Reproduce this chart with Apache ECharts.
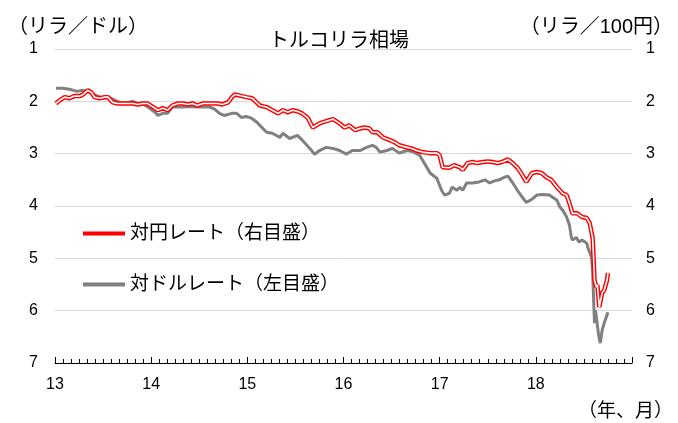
<!DOCTYPE html>
<html>
<head>
<meta charset="utf-8">
<script src="https://cdn.jsdelivr.net/npm/echarts@6/dist/echarts.min.js"></script>
<style>
html, body { margin: 0; padding: 0; background: #fff; }
#chart { width: 678px; height: 423px; }
</style>
</head>
<body>
<div id="chart"></div>
<script>
// 対ドル（左目盛）: 年（13 = 2013年1月）, リラ／ドル
var usdYears = [13.01, 13.08, 13.15, 13.23, 13.29, 13.34, 13.39, 13.44, 13.50, 13.55, 13.60, 13.65, 13.70, 13.76, 13.81, 13.86, 13.91, 13.98,
    14.04, 14.07, 14.12, 14.17, 14.22, 14.28, 14.33, 14.40, 14.47, 14.54, 14.61, 14.66, 14.71, 14.76, 14.84, 14.89, 14.94, 14.99,
    15.04, 15.10, 15.13, 15.20, 15.26, 15.34, 15.37, 15.44, 15.52, 15.57, 15.65, 15.70, 15.75, 15.82, 15.89, 15.96,
    16.03, 16.09, 16.17, 16.24, 16.30, 16.34, 16.38, 16.45, 16.51, 16.58, 16.66, 16.72, 16.79, 16.84, 16.90, 16.97,
    17.02, 17.05, 17.10, 17.13, 17.18, 17.21, 17.24, 17.28, 17.34, 17.41, 17.47, 17.52, 17.57, 17.62, 17.67, 17.71, 17.76, 17.83, 17.90, 17.96,
    18.01, 18.07, 18.14, 18.22, 18.25, 18.28, 18.32, 18.35, 18.37, 18.38, 18.42, 18.45, 18.48, 18.53, 18.54, 18.58, 18.59, 18.60,
    18.61, 18.62, 18.63, 18.65, 18.67, 18.69, 18.71, 18.75];
var usdRates = [1.75, 1.75, 1.77, 1.81, 1.79, 1.81, 1.85, 1.90, 1.94, 1.92, 1.96, 2.00, 2.04, 2.02, 2.00, 2.04, 2.04, 2.13,
    2.21, 2.27, 2.23, 2.23, 2.11, 2.11, 2.11, 2.10, 2.11, 2.11, 2.11, 2.15, 2.23, 2.27, 2.23, 2.23, 2.31, 2.29,
    2.32, 2.40, 2.46, 2.59, 2.61, 2.69, 2.61, 2.71, 2.65, 2.74, 2.90, 3.01, 2.94, 2.88, 2.90, 2.94,
    3.01, 2.94, 2.94, 2.88, 2.84, 2.88, 2.97, 2.94, 2.90, 2.99, 2.94, 2.96, 3.03, 3.18, 3.37, 3.47,
    3.70, 3.79, 3.76, 3.64, 3.70, 3.64, 3.70, 3.56, 3.56, 3.54, 3.50, 3.56, 3.52, 3.50, 3.45, 3.43, 3.56, 3.76, 3.93, 3.87,
    3.79, 3.78, 3.79, 3.89, 4.02, 4.08, 4.21, 4.37, 4.60, 4.65, 4.60, 4.69, 4.65, 4.71, 4.79, 4.98, 5.23, 5.74,
    6.24, 5.99, 6.13, 6.43, 6.62, 6.37, 6.24, 6.03];

// 対円（右目盛）: リラ／100円
var jpyYears = [13.01, 13.05, 13.10, 13.15, 13.20, 13.26, 13.29, 13.34, 13.38, 13.41, 13.46, 13.52, 13.55, 13.60, 13.65, 13.70, 13.76, 13.81, 13.86, 13.91, 13.96,
    14.02, 14.07, 14.12, 14.17, 14.22, 14.28, 14.33, 14.38, 14.43, 14.48, 14.54, 14.59, 14.64, 14.69, 14.74, 14.80, 14.84, 14.87, 14.92, 14.99,
    15.05, 15.13, 15.20, 15.26, 15.32, 15.37, 15.42, 15.47, 15.52, 15.57, 15.63, 15.68, 15.75, 15.82, 15.89, 15.96,
    16.01, 16.06, 16.12, 16.17, 16.22, 16.27, 16.30, 16.35, 16.41, 16.48, 16.53, 16.58, 16.66, 16.71, 16.76, 16.82, 16.90, 16.97,
    17.00, 17.03, 17.10, 17.15, 17.21, 17.24, 17.29, 17.34, 17.39, 17.45, 17.50, 17.55, 17.60, 17.65, 17.71, 17.76, 17.81, 17.86, 17.90, 17.96,
    18.01, 18.06, 18.11, 18.16, 18.22, 18.25, 18.28, 18.32, 18.35, 18.38, 18.43, 18.48, 18.53, 18.56, 18.59, 18.60,
    18.61, 18.63, 18.64, 18.66, 18.68, 18.69, 18.71, 18.74, 18.75];
var jpyRates = [2.04, 1.98, 1.92, 1.94, 1.90, 1.90, 1.87, 1.79, 1.83, 1.92, 1.94, 1.92, 1.92, 2.02, 2.04, 2.04, 2.04, 2.04, 2.06, 2.04, 2.04,
    2.11, 2.17, 2.13, 2.17, 2.08, 2.04, 2.04, 2.06, 2.04, 2.08, 2.04, 2.04, 2.04, 2.04, 2.06, 2.02, 1.92, 1.87, 1.89, 1.92,
    1.94, 2.08, 2.11, 2.17, 2.23, 2.17, 2.21, 2.17, 2.19, 2.23, 2.32, 2.50, 2.42, 2.38, 2.34, 2.42,
    2.50, 2.46, 2.55, 2.52, 2.50, 2.52, 2.59, 2.59, 2.69, 2.74, 2.78, 2.84, 2.88, 2.90, 2.94, 2.97, 2.99, 2.99,
    3.03, 3.26, 3.27, 3.22, 3.26, 3.31, 3.18, 3.16, 3.18, 3.16, 3.15, 3.16, 3.18, 3.16, 3.11, 3.18, 3.27, 3.41, 3.54, 3.37,
    3.35, 3.37, 3.45, 3.50, 3.64, 3.70, 3.76, 3.79, 3.95, 4.14, 4.14, 4.21, 4.23, 4.33, 4.60, 4.98,
    5.42, 5.55, 5.51, 5.93, 5.93, 5.66, 5.61, 5.42, 5.28];

var yearLabels = ['13', '14', '15', '16', '17', '18'];
var rateTicks = [1, 2, 3, 4, 5, 6, 7];

var FONT = "'Liberation Sans', 'Noto Sans CJK JP', sans-serif";

function pairs(xs, ys) {
    var out = [];
    for (var i = 0; i < xs.length; i++) {
        out.push([xs[i], ys[i]]);
    }
    return out;
}

var usdData = pairs(usdYears, usdRates);
var jpyData = pairs(jpyYears, jpyRates);

var chart = echarts.init(document.getElementById('chart'), null, { renderer: 'canvas' });
var option = {
    animation: false,
    backgroundColor: '#fff',
    textStyle: { fontFamily: FONT },
    title: [
        { text: 'トルコリラ相場', left: 'center', top: 26, textStyle: { fontSize: 20, fontWeight: 'normal', color: '#000', fontFamily: FONT } },
        { text: '（リラ／ドル）', left: 3, top: 12, textStyle: { fontSize: 20, fontWeight: 'normal', color: '#000', fontFamily: FONT } },
        { text: '（リラ／100円）', right: 0, top: 12, textStyle: { fontSize: 20, fontWeight: 'normal', color: '#000', fontFamily: FONT } },
        { text: '（年、月）', right: 0, top: 397, textStyle: { fontSize: 19, fontWeight: 'normal', color: '#000', fontFamily: FONT } }
    ],
    legend: {
        orient: 'vertical',
        left: 78,
        top: 219,
        itemGap: 32,
        itemWidth: 42,
        itemHeight: 4,
        textStyle: { fontSize: 19, color: '#000', fontFamily: FONT },
        data: [
            { name: '対円レート（右目盛）', icon: 'rect' },
            { name: '対ドルレート（左目盛）', icon: 'rect' }
        ]
    },
    grid: { left: 55, right: 46, top: 49, bottom: 60 },
    xAxis: {
        type: 'value',
        min: 13,
        max: 19,
        interval: 1,
        axisLine: { show: true, lineStyle: { color: '#000', width: 1 } },
        axisTick: { show: true, inside: true, length: 6, lineStyle: { color: '#000' } },
        minorTick: { show: true, splitNumber: 12, length: 4, lineStyle: { color: '#000' } },
        splitLine: { show: false },
        axisLabel: {
            fontSize: 16, color: '#000', margin: 14, fontFamily: FONT,
            formatter: function (v) {
                var i = Math.round(v) - 13;
                return yearLabels[i] !== undefined ? yearLabels[i] : '';
            }
        }
    },
    yAxis: [
        {
            type: 'value', inverse: true, min: 1, max: 7, interval: 1, position: 'left',
            axisLine: { show: false }, axisTick: { show: false },
            splitLine: { show: true, lineStyle: { color: '#d9d9d9', width: 1 } },
            axisLabel: { fontSize: 16, color: '#000', margin: 17, fontFamily: FONT,
                formatter: function (v) { return rateTicks.indexOf(v) >= 0 ? String(v) : ''; } }
        },
        {
            type: 'value', inverse: true, min: 1, max: 7, interval: 1, position: 'right',
            axisLine: { show: false }, axisTick: { show: false }, splitLine: { show: false },
            axisLabel: { fontSize: 16, color: '#000', margin: 14, fontFamily: FONT,
                formatter: function (v) { return rateTicks.indexOf(v) >= 0 ? String(v) : ''; } }
        }
    ],
    series: [
        {
            name: '対ドルレート（左目盛）', type: 'line', yAxisIndex: 0, data: usdData,
            showSymbol: false, symbol: 'none', color: '#808080',
            lineStyle: { color: '#808080', width: 3 }, z: 2
        },
        {
            name: '対円レート（右目盛）', type: 'line', yAxisIndex: 1, data: jpyData,
            showSymbol: false, symbol: 'none', color: '#ff0000',
            lineStyle: { color: '#ff0000', width: 4.5 }, z: 3
        },
        {
            name: 'jpyInner', type: 'line', yAxisIndex: 1, data: jpyData,
            showSymbol: false, symbol: 'none', color: '#ffffff',
            lineStyle: { color: '#ffffff', width: 1.6 }, z: 4
        }
    ]
};
chart.setOption(option);
</script>
</body>
</html>
